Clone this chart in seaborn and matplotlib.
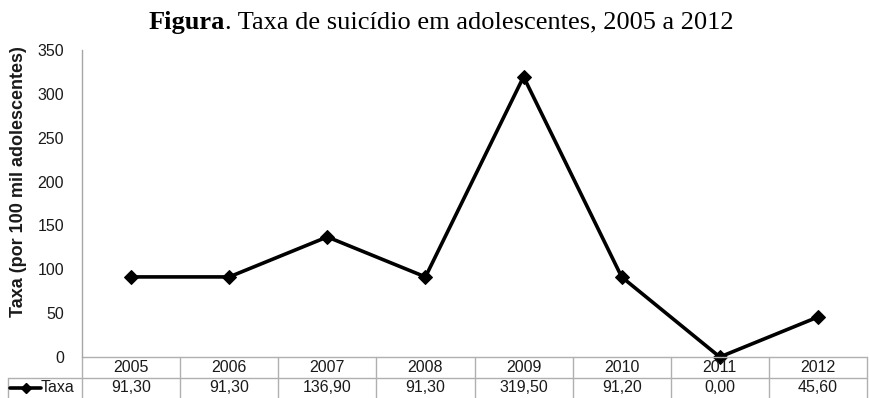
import matplotlib
matplotlib.use("Agg")
import matplotlib.pyplot as plt
from matplotlib.lines import Line2D
import seaborn as sns
import pandas as pd

years = ["2005", "2006", "2007", "2008", "2009", "2010", "2011", "2012"]
taxa = [91.30, 91.30, 136.90, 91.30, 319.50, 91.20, 0.00, 45.60]
taxa_labels = ["91,30", "91,30", "136,90", "91,30", "319,50", "91,20", "0,00", "45,60"]
series_name = "Taxa"
y_ticks = [0, 50, 100, 150, 200, 250, 300, 350]

sns.set_theme(style="white")
plt.rcParams["font.family"] = ["Liberation Sans", "DejaVu Sans"]

W, H = 869, 398
fig = plt.figure(figsize=(W / 100, H / 100), dpi=100)
ax = fig.add_axes([82 / W, 1 - 357 / H, (867 - 82) / W, (357 - 50) / H])

df = pd.DataFrame({"idx": range(len(years)), "taxa": taxa})
sns.lineplot(data=df, x="idx", y="taxa", ax=ax, color="black", linewidth=2.6,
             marker="D", markersize=7, markeredgecolor="black", clip_on=False)

txt_col = "#1a1a1a"
fs = 11.5
ax.set_xlim(-0.5, len(years) - 0.5)
ax.set_ylim(0, 350)
ax.set_yticks(y_ticks)
ax.set_yticklabels([str(t) for t in y_ticks], fontsize=fs, color=txt_col)
ax.tick_params(axis="y", length=0, pad=13)
ax.set_xticks([])
ax.set_xlabel("")
ax.set_ylabel("")
for s in ["top", "right", "bottom"]:
    ax.spines[s].set_visible(False)
ax.spines["left"].set_color("#a6a6a6")
ax.spines["left"].set_linewidth(1.0)

fig.text(19 / W, 1 - 182 / H, "Taxa (por 100 mil adolescentes)", rotation=90,
         fontsize=13, fontweight="bold", color=txt_col, ha="center", va="center")

grid_col = "#b0b0b0"
tr = ax.get_xaxis_transform()
ah = 357 - 50
row1 = -(378 - 357) / ah
row2 = -(398 - 357) / ah

ax.plot([-0.5, len(years) - 0.5], [0, 0], transform=tr, color=grid_col, lw=1, clip_on=False)
ax.plot([-0.5, len(years) - 0.5], [row1, row1], transform=tr, color=grid_col, lw=1, clip_on=False)
for b in range(len(years) + 1):
    ax.plot([b - 0.5, b - 0.5], [0, row2 - 0.01], transform=tr, color=grid_col, lw=1, clip_on=False)

for i, (yr, lab) in enumerate(zip(years, taxa_labels)):
    ax.text(i, -(367.5 - 357) / ah, yr, transform=tr, ha="center", va="center",
            fontsize=fs, color=txt_col)
    ax.text(i, -(388 - 357) / ah, lab, transform=tr, ha="center", va="center",
            fontsize=fs, color=txt_col)

ftr = fig.transFigure
fig.add_artist(Line2D([8 / W, 82 / W], [1 - 378 / H, 1 - 378 / H], transform=ftr, color=grid_col, lw=1))
fig.add_artist(Line2D([8 / W, 8 / W], [1 - 378 / H, 0], transform=ftr, color=grid_col, lw=1))
fig.add_artist(Line2D([10 / W, 41 / W], [1 - 388 / H, 1 - 388 / H], transform=ftr, color="black", lw=2.6))
fig.add_artist(Line2D([25.5 / W], [1 - 388 / H], transform=ftr, color="black", marker="D",
                      markersize=5, lw=0))
fig.text(41 / W, 1 - 388 / H, series_name, ha="left", va="center", fontsize=fs, color=txt_col)

title_y = 1 - 22 / H
serif = ["Liberation Serif", "DejaVu Serif"]
t1 = fig.text(0, title_y, "Figura", fontsize=19, fontweight="bold",
              family=serif, ha="left", va="center", color="black")
t2 = fig.text(0, title_y, ". Taxa de suicídio em adolescentes, 2005 a 2012", fontsize=19,
              family=serif, ha="left", va="center", color="black")
fig.canvas.draw()
r = fig.canvas.get_renderer()
w1 = t1.get_window_extent(r).width
w2 = t2.get_window_extent(r).width
cx = 441
start = cx - (w1 + w2) / 2
t1.set_x(start / W)
t2.set_x((start + w1) / W)

fig.savefig("out.png", dpi=100)
